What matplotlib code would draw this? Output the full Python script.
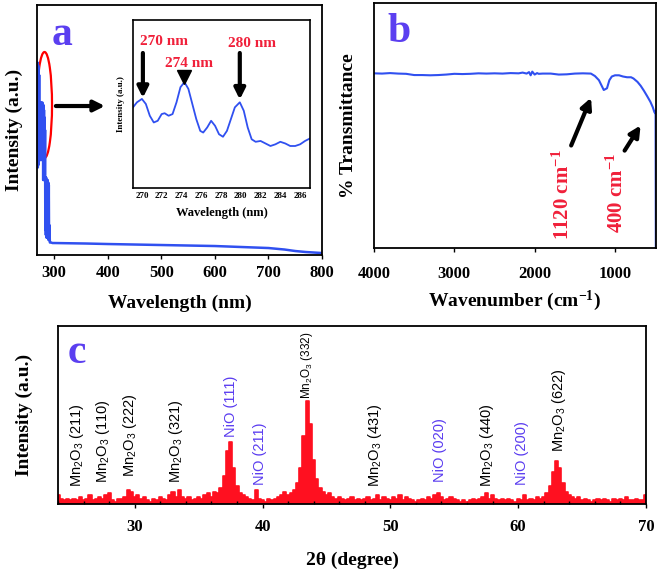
import numpy as np
import matplotlib
matplotlib.use('Agg')
import matplotlib.pyplot as plt
from matplotlib.patches import Ellipse

plt.rcParams['font.family'] = 'Liberation Serif'
plt.rcParams['font.weight'] = 'bold'

BLUE = '#3050f0'
RED = '#ff1020'
REDTXT = '#f0203a'
LETTER = '#5b3ff0'
NIO = '#5a3cf0'

# ---- panel a : UV-vis spectrum ----
wl_a = [268.5, 269, 269.5, 270, 270.5, 271, 271.5, 272, 272.5, 273, 273.5, 274, 274.5, 275,
        275.5, 276, 276.5, 277, 277.5, 278, 278.5, 279, 279.5, 280, 280.5, 281, 281.5, 282,
        282.5, 283, 283.5, 284, 284.5, 285, 285.5, 286, 286.5, 287, 287.5, 288, 288.5, 289,
        289.5, 290, 290.5, 291, 292, 294, 297, 300, 330, 360, 400, 450, 500, 550, 600, 650,
        700, 730, 750, 770, 800]
abs_a = [0.40, 0.77, 0.35, 0.76, 0.36, 0.75, 0.38, 0.72, 0.40, 0.61, 0.38, 0.61, 0.38, 0.60,
         0.39, 0.61, 0.38, 0.60, 0.40, 0.61, 0.38, 0.60, 0.30, 0.60, 0.30, 0.58, 0.31, 0.55,
         0.32, 0.50, 0.10, 0.30, 0.08, 0.31, 0.07, 0.30, 0.07, 0.29, 0.08, 0.30, 0.07, 0.29,
         0.06, 0.28, 0.06, 0.12, 0.05, 0.05, 0.048, 0.048, 0.047, 0.046, 0.044, 0.042, 0.040,
         0.038, 0.036, 0.032, 0.028, 0.022, 0.016, 0.012, 0.008]

# inset (zoom of 269-287 nm)
wl_in = [269.1, 269.5, 270.0, 270.4, 270.8, 271.2, 271.6, 272.0, 272.3, 272.7, 273.1, 273.5,
         273.9, 274.3, 274.7, 275.1, 275.5, 275.9, 276.2, 276.6, 277.0, 277.4, 277.8, 278.2,
         278.6, 279.0, 279.4, 279.9, 280.3, 280.7, 281.1, 281.5, 282.0, 282.5, 283.0, 283.5,
         284.0, 284.5, 285.0, 285.5, 286.0, 286.5, 287.0]
abs_in = [0.48, 0.51, 0.53, 0.50, 0.43, 0.39, 0.40, 0.44, 0.445, 0.43, 0.44, 0.51,
          0.60, 0.63, 0.59, 0.50, 0.41, 0.34, 0.33, 0.36, 0.40, 0.37, 0.32, 0.305,
          0.34, 0.41, 0.48, 0.51, 0.46, 0.36, 0.29, 0.275, 0.28, 0.265, 0.25, 0.26,
          0.275, 0.265, 0.25, 0.25, 0.26, 0.28, 0.295]
peak_nm = [270, 274, 280]

# ---- panel b : FTIR ----
wn_b = [4000, 3900, 3800, 3700, 3600, 3500, 3400, 3300, 3200, 3100, 3000, 2900, 2800, 2700,
        2600, 2500, 2400, 2300, 2200, 2150, 2100, 2070, 2050, 2030, 2000, 1970, 1950, 1900,
        1800, 1700, 1600, 1500, 1400, 1300, 1250, 1200, 1170, 1140, 1100, 1070, 1040, 1000,
        950, 900, 850, 800, 770, 720, 680, 640, 600, 560, 530, 510, 500, 495, 492]
tr_b = [0.713, 0.712, 0.714, 0.712, 0.711, 0.706, 0.706, 0.705, 0.706, 0.708, 0.711, 0.710,
        0.711, 0.713, 0.712, 0.713, 0.712, 0.714, 0.713, 0.716, 0.712, 0.718, 0.705, 0.720,
        0.708, 0.714, 0.711, 0.712, 0.712, 0.708, 0.709, 0.712, 0.713, 0.712, 0.702, 0.685,
        0.665, 0.645, 0.652, 0.685, 0.700, 0.705, 0.705, 0.700, 0.697, 0.697, 0.692, 0.678,
        0.662, 0.642, 0.620, 0.597, 0.575, 0.555, 0.550, 0.560, 0.0]

# ---- panel c : XRD (step 0.25 deg from 24 to 70) ----
two_theta = np.arange(24, 70.01, 0.25)
xrd = [0.05, 0.03, 0.02, 0.03, 0.02, 0.03, 0.02, 0.04, 0.02, 0.03, 0.05, 0.02, 0.03, 0.04, 0.03, 0.05, 0.06, 0.02, 0.01, 0.03,
       0.03, 0.04, 0.08, 0.07, 0.04, 0.05, 0.03, 0.04, 0.02, 0.01, 0.03, 0.02, 0.04, 0.03, 0.02, 0.05, 0.07, 0.04, 0.08, 0.04,
       0.03, 0.04, 0.02, 0.03, 0.04, 0.03, 0.05, 0.06, 0.04, 0.07, 0.06, 0.09, 0.16, 0.30, 0.35, 0.20, 0.10, 0.06, 0.05, 0.04,
       0.03, 0.02, 0.08, 0.03, 0.02, 0.01, 0.03, 0.02, 0.03, 0.04, 0.05, 0.07, 0.05, 0.06, 0.08, 0.12, 0.20, 0.38, 0.58, 0.45,
       0.25, 0.14, 0.09, 0.07, 0.05, 0.06, 0.04, 0.03, 0.04, 0.03, 0.02, 0.03, 0.04, 0.02, 0.03, 0.02, 0.03, 0.04, 0.02, 0.03,
       0.05, 0.02, 0.04, 0.03, 0.02, 0.04, 0.03, 0.05, 0.02, 0.04, 0.03, 0.02, 0.01, 0.02, 0.03, 0.02, 0.04, 0.03, 0.05, 0.06,
       0.04, 0.02, 0.03, 0.04, 0.03, 0.02, 0.01, 0.02, 0.01, 0.02, 0.03, 0.02, 0.03, 0.04, 0.06, 0.03, 0.05, 0.03, 0.02, 0.03,
       0.02, 0.03, 0.02, 0.01, 0.03, 0.02, 0.05, 0.02, 0.03, 0.02, 0.04, 0.03, 0.04, 0.06, 0.10, 0.18, 0.24, 0.20, 0.12, 0.07,
       0.05, 0.04, 0.03, 0.04, 0.02, 0.03, 0.02, 0.01, 0.02, 0.03, 0.02, 0.03, 0.02, 0.01, 0.03, 0.02, 0.03, 0.02, 0.04, 0.02,
       0.02, 0.03, 0.02, 0.02, 0.05]

# peak labels: text, 2theta, label bottom, phase
lab_text = ['Mn$\\mathregular{_2}$O$\\mathregular{_3}$ (211)', 'Mn$\\mathregular{_2}$O$\\mathregular{_3}$ (110)',
            'Mn$\\mathregular{_2}$O$\\mathregular{_3}$ (222)', 'Mn$\\mathregular{_2}$O$\\mathregular{_3}$ (321)',
            'NiO (111)', 'NiO (211)', 'Mn$\\mathregular{_2}$O$\\mathregular{_3}$ (332)',
            'Mn$\\mathregular{_2}$O$\\mathregular{_3}$ (431)', 'NiO (020)',
            'Mn$\\mathregular{_2}$O$\\mathregular{_3}$ (440)', 'NiO (200)',
            'Mn$\\mathregular{_2}$O$\\mathregular{_3}$ (622)']
lab_x = [25.5, 27.5, 29.6, 33.2, 37.5, 39.8, 43.5, 48.8, 53.9, 57.6, 60.3, 63.2]
lab_y = [0.096, 0.118, 0.152, 0.118, 0.376, 0.107, 0.59, 0.096, 0.124, 0.096, 0.107, 0.29]
lab_nio = [False, False, False, False, True, True, False, False, True, False, True, False]

fig = plt.figure(figsize=(6.61, 5.69), dpi=100)

def style(ax, tickdir, pad=4):
    for s in ax.spines.values():
        s.set_linewidth(1.3)
    ax.set_yticks([])
    ax.tick_params(axis='x', direction=tickdir, length=3, width=1, labelsize=12, pad=pad)
    for t in ax.get_xticklabels():
        t.set_fontweight('bold')

arrow = dict(arrowstyle='-|>', lw=3, color='black', mutation_scale=16)

# panel a
ax1 = fig.add_axes([0.0560, 0.5518, 0.4312, 0.4394])
ax1.plot(wl_a, abs_a, color=BLUE, lw=1.8)
ax1.set_xlim(268, 800)
ax1.set_ylim(0, 1)
ax1.set_xticks([300, 400, 500, 600, 700, 800])
style(ax1, 'out')
ax1.set_xlabel('Wavelength (nm)', fontsize=14, fontweight='bold', labelpad=10)
ax1.set_ylabel('Intensity (a.u.)', fontsize=14, fontweight='bold', labelpad=10)
ax1.text(0.053, 0.84, 'a', transform=ax1.transAxes, fontsize=30, fontweight='bold',
         color=LETTER, va='baseline')
ax1.add_patch(Ellipse((282, 0.6), 28, 0.424, fill=False, edgecolor='red', lw=1.6))
ax1.annotate('', xy=(400, 0.596), xytext=(298, 0.596), arrowprops=arrow)

# inset
axi = fig.add_axes([0.2012, 0.6696, 0.2678, 0.2953])
axi.plot(wl_in, abs_in, color=BLUE, lw=1.3)
axi.set_xlim(269.1, 287)
axi.set_ylim(0, 1)
axi.set_xticks(np.arange(270, 287, 2))
for s in axi.spines.values():
    s.set_linewidth(1.2)
axi.set_yticks([])
axi.tick_params(axis='x', length=0, labelsize=6.5, pad=3)
for t in axi.get_xticklabels():
    t.set_fontweight('bold')
axi.set_xlabel('Wavelength (nm)', fontsize=9, fontweight='bold', labelpad=5)
axi.set_ylabel('Intensity (a.u.)', fontsize=6.5, fontweight='bold', labelpad=6)
axi.annotate('', xy=(270.1, 0.52), xytext=(270.1, 0.82), arrowprops=arrow)
axi.plot([274.3], [0.66], marker='v', ms=10, color='black', linestyle='none')
axi.annotate('', xy=(279.9, 0.51), xytext=(279.9, 0.82), arrowprops=arrow)
axi.text(269.85, 0.87, '%d nm' % peak_nm[0], color=REDTXT, fontsize=11, fontweight='bold',
         ha='left', va='center')
axi.text(274.75, 0.74, '%d nm' % peak_nm[1], color=REDTXT, fontsize=11, fontweight='bold',
         ha='center', va='center')
axi.text(281.1, 0.86, '%d nm' % peak_nm[2], color=REDTXT, fontsize=11, fontweight='bold',
         ha='center', va='center')

# panel b
ax2 = fig.add_axes([0.5658, 0.5641, 0.4266, 0.4306])
ax2.plot(wn_b, tr_b, color=BLUE, lw=1.5)
ax2.set_xlim(4000, 490)
ax2.set_ylim(0, 1)
ax2.set_xticks([4000, 3000, 2000, 1000])
style(ax2, 'out', pad=10)
ax2.set_xlabel('Wavenumber (cm$\\mathregular{^{-1}}$)', fontsize=14, fontweight='bold', labelpad=5)
ax2.set_ylabel('% Transmittance', fontsize=14, fontweight='bold', labelpad=12)
ax2.text(0.046, 0.84, 'b', transform=ax2.transAxes, fontsize=30, fontweight='bold',
         color=LETTER, va='baseline')
ax2.annotate('', xy=(1285, 0.624), xytext=(1559, 0.408), arrowprops=arrow)
ax2.annotate('', xy=(663, 0.51), xytext=(899, 0.388), arrowprops=arrow)
ax2.text(1646, 0.033, '1120 cm$\\mathregular{^{-1}}$', rotation=90, color=REDTXT, fontsize=15,
         fontweight='bold', ha='center', va='bottom')
ax2.text(974, 0.061, '400 cm$\\mathregular{^{-1}}$', rotation=90, color=REDTXT, fontsize=15,
         fontweight='bold', ha='center', va='bottom')

# panel c
ax3 = fig.add_axes([0.0877, 0.1142, 0.8896, 0.3128])
ax3.fill_between(two_theta, 0, xrd, step='mid', color=RED, lw=0)
ax3.step(two_theta, xrd, where='mid', color=RED, lw=1.2)
ax3.set_xlim(24, 70)
ax3.set_ylim(0, 1)
ax3.set_xticks([30, 40, 50, 60, 70])
ax3.set_xticks(np.arange(24, 70, 2), minor=True)
style(ax3, 'out', pad=8)
ax3.tick_params(axis='x', which='minor', direction='in', length=2, width=1)
ax3.set_xlabel('2\u03b8 (degree)', fontsize=14, fontweight='bold', labelpad=12)
ax3.set_ylabel('Intensity (a.u.)', fontsize=14, fontweight='bold', labelpad=18)
ax3.text(0.017, 0.79, 'c', transform=ax3.transAxes, fontsize=30, fontweight='bold',
         color=LETTER, va='baseline')
for txt, x, y, nio in zip(lab_text, lab_x, lab_y, lab_nio):
    fs = 8.5 if '(332)' in txt else 10.5
    ax3.text(x, y, txt, rotation=90, ha='center', va='bottom', fontsize=fs,
             family='Liberation Sans', fontweight='normal',
             color=NIO if nio else 'black')

fig.savefig('out.png', dpi=100)
